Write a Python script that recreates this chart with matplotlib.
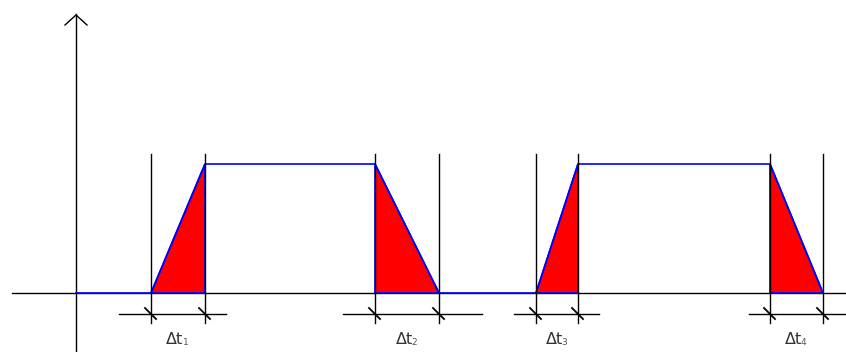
import matplotlib
matplotlib.use("Agg")
import matplotlib.pyplot as plt
from matplotlib.patches import Polygon

# Diagram data (time units; origin at the vertical axis)
edges = [75, 129, 299, 363, 460, 502, 694, 747]   # rise start, rise end, fall start, fall end per pulse
high_level = 129
low_level = 0
dim_extents = [(43, 150), (267, 406), (438, 523), (673, 770)]
label_base = "Δt"
label_subs = ["1", "2", "3", "4"]

fig = plt.figure(figsize=(8.46, 3.52), dpi=100)
ax = fig.add_axes([0, 0, 1, 1])
ax.set_xlim(-76, 770)
ax.set_ylim(-59, 293)
ax.axis("off")

# axes
ax.plot([-64, 770], [0, 0], color="black", lw=1.0, zorder=2)
ax.plot([0, 0], [-59, 279], color="black", lw=1.0, zorder=2)
ax.plot([-11, 0, 11], [268, 278, 268], color="black", lw=1.0, zorder=2)

# red transition triangles
tri = [
    [(edges[0], low_level), (edges[1], high_level), (edges[1], low_level)],
    [(edges[2], high_level), (edges[3], low_level), (edges[2], low_level)],
    [(edges[4], low_level), (edges[5], high_level), (edges[5], low_level)],
    [(edges[6], high_level), (edges[7], low_level), (edges[6], low_level)],
]
for t in tri:
    ax.add_patch(Polygon(t, closed=True, facecolor="#ff0000", edgecolor="#0000ff",
                         lw=1.2, zorder=3))

# blue signal
sx = [0, edges[0], edges[1], edges[2], edges[3], edges[4], edges[5], edges[6], edges[7]]
sy = [low_level, low_level, high_level, high_level, low_level, low_level,
      high_level, high_level, low_level]
ax.plot(sx, sy, color="#0000ff", lw=1.2, zorder=4)

# vertical edge lines
for e in edges:
    ax.plot([e, e], [139, -30], color="black", lw=1.0, zorder=5)

# dimension lines with oblique ticks and labels
for i, (a, b) in enumerate(dim_extents):
    ax.plot([a, b], [-21, -21], color="black", lw=1.0, zorder=5)
    for e in (edges[2 * i], edges[2 * i + 1]):
        ax.plot([e - 6, e + 5], [-15, -26], color="black", lw=1.3, zorder=6)
    mid = (edges[2 * i] + edges[2 * i + 1]) / 2
    base = ax.text(mid - 3, -47, label_base, ha="center", va="center", fontsize=11.5,
                   color="#333333")
    ax.annotate(label_subs[i], xy=(1.0, 0.05), xycoords=base, xytext=(-0.8, 0),
                textcoords="offset points", ha="left", va="bottom", fontsize=6.5,
                color="#555555")

fig.savefig("out.png", dpi=100)
